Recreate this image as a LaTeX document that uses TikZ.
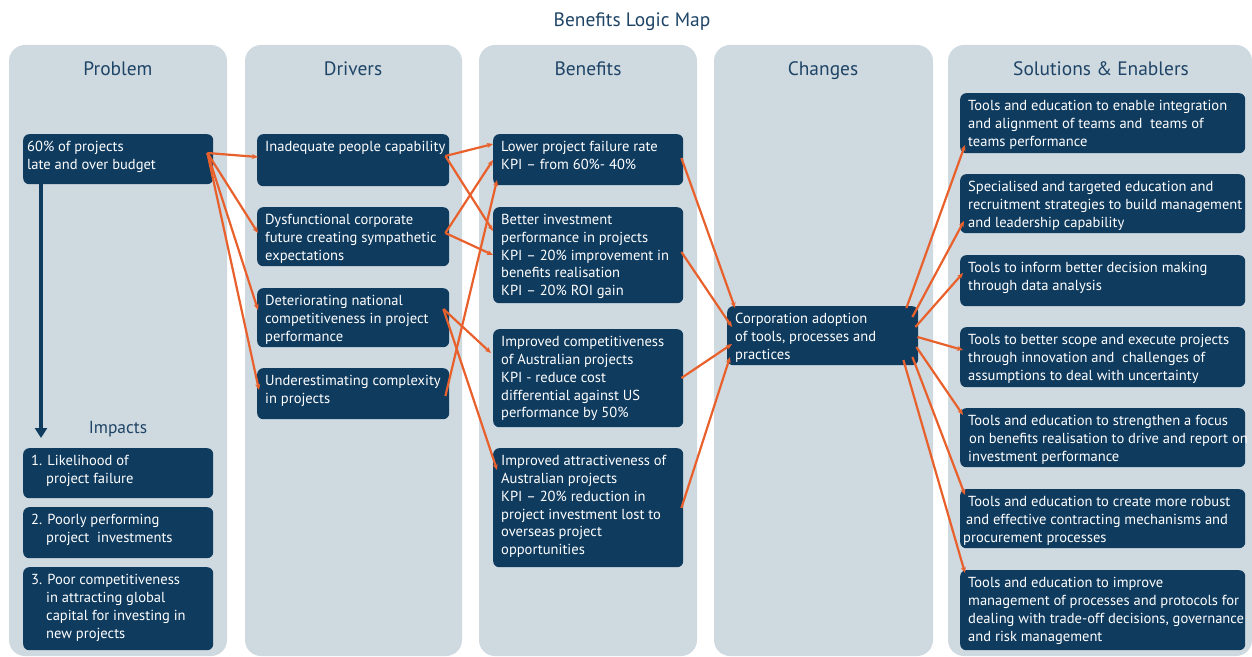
\documentclass[tikz,border=0pt]{standalone}
\usepackage{fontspec}
\setmainfont{PT Sans}
\usetikzlibrary{calc,arrows.meta}

\definecolor{panel}{HTML}{CFD9E0}
\definecolor{navy}{HTML}{0F3B5F}
\definecolor{accent}{HTML}{E8612C}
\definecolor{headtxt}{HTML}{1E4466}

\tikzset{
  nbox/.style={fill=navy, rounded corners=6bp, text=white, inner xsep=8bp,
    inner ysep=0pt, anchor=north west, font=\fontsize{14.6}{18}\selectfont},
  head/.style={text=headtxt, anchor=base, font=\fontsize{19.5}{22}\selectfont},
  conn/.style={draw=accent, line width=2.2bp, -{Stealth[length=6bp,width=5bp]}},
  colpanel/.style={fill=panel, rounded corners=16bp},
}

% #1 extra left shift of the text, #2 name, #3/#4 top-left corner, #5 width, #6 height, #7 text
\newcommand\bxnode[7][0bp]{%
  \node[nbox] (#2) at (#3,#4) {\parbox[c][#6bp][t]{\dimexpr#5bp-16bp\relax}{%
    \rule{0pt}{17bp}\makebox[0pt][l]{\hspace*{#1}\parbox[t]{600bp}{\raggedright #7}}}};}

\begin{document}
\begin{tikzpicture}[x=1bp, y=-1bp]
\useasboundingbox (0,0) rectangle (1252,657);

% column panels
\fill[colpanel] (9,45) rectangle (227,656);
\fill[colpanel] (245,45) rectangle (462,656);
\fill[colpanel] (479,45) rectangle (697,656);
\fill[colpanel] (714,45) rectangle (933,656);
\fill[colpanel] (948,45) rectangle (1252,656);

% title and column headings
\node[head] (title) at (632,27) {Benefits Logic Map};
\node[head] (hprob) at (118,76) {Problem};
\node[head] (hdrv) at (353,76) {Drivers};
\node[head] (hben) at (588,76) {Benefits};
\node[head] (hchg) at (823,76) {Changes};
\node[head] (hsol) at (1101,76) {Solutions \& Enablers};
\node[head, font=\fontsize{17.5}{20}\selectfont] (himp) at (118,433) {Impacts};

% problem and impacts
\bxnode[-4bp]{prob}{23}{134}{190}{50}{60\% of projects\\late and over budget}
\bxnode{imp1}{23}{448}{190}{50}{1. Likelihood of\\\hspace*{15bp}project failure}
\bxnode{imp2}{23}{507}{190}{51}{2. Poorly performing\\\hspace*{15bp}project\ \ investments}
\bxnode{imp3}{23}{567}{190}{83}{3. Poor competitiveness\\\hspace*{15bp}in attracting global\\\hspace*{15bp}capital for investing in\\\hspace*{15bp}new projects}

% drivers
\bxnode{inad}{257}{134}{192}{52}{Inadequate people capability}
\bxnode{dysf}{257}{207}{192}{59}{Dysfunctional corporate\\future creating sympathetic\\expectations}
\bxnode{deter}{257}{288}{192}{59}{Deteriorating national\\competitiveness in project\\performance}
\bxnode{under}{257}{368}{192}{51}{Underestimating complexity\\in projects}

% benefits
\bxnode{lower}{493}{134}{190}{51}{Lower project failure rate\\KPI -- from 60\%- 40\%}
\bxnode{better}{493}{207}{190}{96}{Better investment\\performance in projects\\KPI -- 20\% improvement in\\benefits realisation\\KPI -- 20\% ROI gain}
\bxnode{comp}{493}{329}{190}{98}{Improved competitiveness\\of Australian projects\\KPI - reduce cost\\differential against US\\performance by 50\%}
\bxnode{attr}{493}{448}{190}{119}{Improved attractiveness of\\Australian projects\\KPI -- 20\% reduction in\\project investment lost to\\overseas project\\opportunities}

% changes
\bxnode{chg}{727}{306}{191}{59}{Corporation adoption\\of tools, processes and\\practices}

% solutions and enablers
\bxnode{sol1}{960}{93}{285}{60}{Tools and education to enable integration\\and alignment of teams and\ \ teams of\\teams performance}
\bxnode{sol2}{960}{174}{285}{59}{Specialised and targeted education and\\recruitment strategies to build management\\and leadership capability}
\bxnode{sol3}{960}{255}{285}{51}{Tools to inform better decision making\\through data analysis}
\bxnode{sol4}{960}{327}{285}{60}{Tools to better scope and execute projects\\through innovation and\ \ challenges of\\assumptions to deal with uncertainty}
\bxnode{sol5}{960}{408}{285}{59}{Tools and education to strengthen a focus\\\hspace*{1bp}on benefits realisation to drive and report on\\investment performance}
\bxnode{sol6}{960}{489}{285}{59}{Tools and education to create more robust\\\hspace*{-2bp}and effective contracting mechanisms and\\\hspace*{-5bp}procurement processes}
\bxnode{sol7}{960}{570}{285}{80}{Tools and education to improve\\management of processes and protocols for\\dealing with trade-off decisions, governance\\and risk management}

% problem leads down to its impacts
\coordinate (impend) at (41,438);
\draw[navy, line width=4.5bp, -{Triangle[width=12bp,length=10bp]}]
  ($(prob.south west)+(18,0)$) -- (impend);

% problem -> drivers
\draw[conn] ($(prob.north east)+(-6,19)$) -- ($(inad.north west)+(1,23)$);
\draw[conn] ($(prob.north east)+(-6,19)$) -- ($(dysf.north west)+(1,26)$);
\draw[conn] ($(prob.north east)+(-6,19)$) -- ($(deter.north west)+(1,22)$);
\draw[conn] ($(prob.north east)+(-6,19)$) -- ($(under.north west)+(2,22)$);

% drivers -> benefits
\draw[conn] ($(inad.north east)+(-4,22)$) -- ($(lower.north west)+(0,10)$);
\draw[conn] ($(inad.north east)+(-4,22)$) -- ($(better.north west)+(0,24)$);
\draw[conn] ($(dysf.north east)+(-4,26)$) -- ($(lower.north west)+(0,26)$);
\draw[conn] ($(dysf.north east)+(-4,26)$) -- ($(better.north west)+(0,48)$);
\draw[conn] ($(under.north east)+(-4,28)$) -- ($(lower.north west)+(4,46)$);
\draw[conn] ($(deter.north east)+(-6,21)$) -- ($(comp.north west)+(-2,24)$);
\draw[conn] ($(deter.north east)+(-6,21)$) -- ($(attr.north west)+(4,22)$);

% benefits -> changes
\draw[conn] ($(lower.north east)+(-2,24)$) -- ($(chg.north west)+(8,2)$);
\draw[conn] ($(better.north east)+(-2,45)$) -- ($(chg.north west)+(5,21)$);
\draw[conn] ($(comp.north east)+(-2,49)$) -- ($(chg.north west)+(5,38)$);
\draw[conn] ($(attr.north east)+(-2,60)$) -- ($(chg.north west)+(3,51)$);

% changes -> solutions
\draw[conn] ($(chg.north east)+(-12,2)$) -- ($(sol1.north west)+(5,52)$);
\draw[conn] ($(chg.north east)+(-6,11)$) -- ($(sol2.north west)+(4,47)$);
\draw[conn] ($(chg.north east)+(-3,21)$) -- ($(sol3.north west)+(3,18)$);
\draw[conn] ($(chg.north east)+(-1,31)$) -- ($(sol4.north west)+(3,23)$);
\draw[conn] ($(chg.north east)+(-2,41)$) -- ($(sol5.north west)+(3,7)$);
\draw[conn] ($(chg.north east)+(-6,51)$) -- ($(sol6.north west)+(5,6)$);
\draw[conn] ($(chg.north east)+(-15,54)$) -- ($(sol7.north west)+(5,3)$);
\end{tikzpicture}
\end{document}
